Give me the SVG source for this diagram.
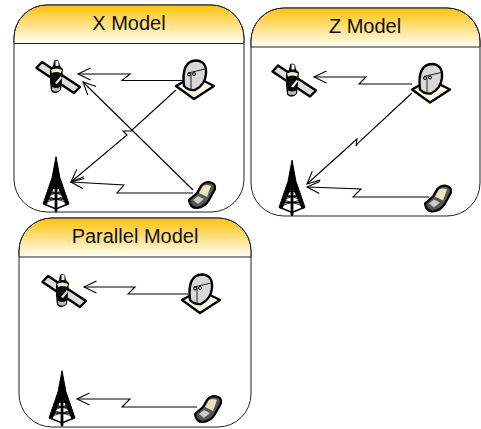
<svg xmlns="http://www.w3.org/2000/svg" width="481" height="429" viewBox="0 0 481 429">
<style>
.panel{fill:#fff;stroke:#222;stroke-width:1}
.head{fill:url(#hg);stroke:none}
.sep{stroke:#222;stroke-width:1}
.title{font-family:"Liberation Sans",Arial,sans-serif;font-size:20px;fill:#111;text-anchor:middle}
.link{fill:none;stroke:#000;stroke-width:1.100;marker-end:url(#open)}
</style>
<defs>
<linearGradient id="hg" x1="0" y1="0" x2="0" y2="1"><stop offset="0" stop-color="#ffc20e"/><stop offset="1" stop-color="#fffff8"/></linearGradient>
<marker id="open" markerUnits="userSpaceOnUse" markerWidth="16" markerHeight="16" refX="14" refY="7" orient="auto" viewBox="0 0 16 14"><path d="M1.500 1 L14 7 L1.500 13" fill="none" stroke="#000" stroke-width="1.100"/></marker>
<g id="sat">
<path d="M36.500 68 L42 62 L80 87 L74 93 Z" fill="#ddd" stroke="#000" stroke-width="2.400" stroke-linejoin="round"/>
<path d="M50 70 L53 66 L54 61 Q56 59 59 61 L60 66 L63 69 L62 80 L61 90 Q56 96 51 91 L50 82 Z" fill="#0a0a0a"/>
<path d="M51 70 Q56 67 62 70 L61 73 Q56 71 52 73 Z M55 83 L61 76 L62 78 L57 84 Z" fill="#f4f0d0"/>
<path d="M55.500 61 H58.500 V66 H55.500 Z" fill="#eee"/>
<path d="M52 87 Q56 89 60 87 L60 90 Q56 93 52 90 Z" fill="#bbb"/>
</g>
<g id="dish">
<path d="M176 86 L194 76 L214 86 L194 99 Z" fill="#fffde8" stroke="#000" stroke-width="2.400" stroke-linejoin="round"/>
<path d="M184 86 Q181 61 196 60.500 Q207 61 206 74 Q205 85 195 90 Q189 91 184 86 Z" fill="#d8d8d8" stroke="#000" stroke-width="2.400"/>
<path d="M188 73 L205 69 M191 73 L191 90" fill="none" stroke="#222" stroke-width="1"/>
<circle cx="189" cy="74.500" r="1.500" fill="none" stroke="#000"/><circle cx="194" cy="74" r="1.500" fill="none" stroke="#000"/>
</g>
<g id="tower" fill="none" stroke="#000" stroke-linecap="round">
<path d="M56 157 L52 178 L43 204 L46 205 L54 186 H58 L66 205 L69 204 L60 178 Z" fill="#000" stroke-width="1"/>
<path d="M56 182 V211" stroke-width="2.800"/>
<path d="M51 182 H61 M50 188 H62 M48 193 H64 M46 199 H66 M44 204 L56 209 L68 204" stroke-width="1.400"/>
<path d="M50 184 L62 190 M62 184 L50 190 M48 190 L64 196 M64 190 L48 196 M46 196 L66 202 M66 196 L46 202" stroke-width=".8"/>
</g>
<g id="phone">
<path d="M189 200 L197 193 L201 186 Q204 182 209 182 Q216 183 215 189 L209 200 Q205 207 197 208 Q190 208 189 200 Z" fill="#555" stroke="#000" stroke-width="2.200" stroke-linejoin="round"/>
<path d="M199 193 L203 186 Q207 184 211 186 L207 197 Z" fill="#e8e4c0"/>
<path d="M193 200 L198 196 L204 199 L198 204 Z" fill="#ccc"/>
</g>
</defs>
<g id="x-model">
<rect class="panel" x="14" y="5" width="230" height="207" rx="33"/>
<path class="head" d="M14.500 43.500 V38 A33 33 0 0 1 47 5.500 H211 A33 33 0 0 1 243.500 38 V43.500 Z"/>
<path class="sep" d="M14 43.500 H244"/>
<path d="M14 43 V38 A33 33 0 0 1 47 5 H211 A33 33 0 0 1 244 38 V43" fill="none" stroke="#222"/>
<text class="title" x="129" y="30">X Model</text>
<use href="#sat"/><use href="#dish"/><use href="#tower"/><use href="#phone"/>
</g>
<g id="z-model">
<rect class="panel" x="251" y="8" width="229" height="208" rx="33"/>
<path class="head" d="M251.500 47 V41 A33 33 0 0 1 284 8.500 H447 A33 33 0 0 1 479.500 41 V47 Z"/>
<path class="sep" d="M251 47 H480"/>
<path d="M251 47 V41 A33 33 0 0 1 284 8 H447 A33 33 0 0 1 480 41 V47" fill="none" stroke="#222"/>
<text class="title" x="365" y="33">Z Model</text>
<g transform="translate(236 3.500)"><use href="#sat"/><use href="#dish"/><use href="#tower"/><use href="#phone"/></g>
</g>
<g id="parallel-model">
<rect class="panel" x="19" y="218" width="232" height="209" rx="33"/>
<path class="head" d="M19.500 257 V251 A33 33 0 0 1 52 218.500 H218 A33 33 0 0 1 250.500 251 V257 Z"/>
<path class="sep" d="M19 257 H251"/>
<path d="M19 257 V251 A33 33 0 0 1 52 218 H218 A33 33 0 0 1 251 251 V257" fill="none" stroke="#222"/>
<text class="title" x="135" y="243">Parallel Model</text>
<g transform="translate(6 214)"><use href="#sat"/><use href="#dish"/><use href="#tower"/><use href="#phone"/></g>
</g>
<g id="connectors">
<path class="link" d="M183 80.500 H122 L130 74 H78"/>
<path class="link" d="M193 190 L83 82"/>
<path class="link" d="M176 90 L131 131 H123 L127 135 L71 182"/>
<path class="link" d="M193 193 H117 L124 185 L71 182"/>
<path class="link" d="M412 84 H359 L366 77 H314"/>
<path class="link" d="M412 93 L358 143 L356 146 L357 139 L307 184"/>
<path class="link" d="M429 197 H353 L361 189 L307 187"/>
<path class="link" d="M188 294 H128 L135 287 H84"/>
<path class="link" d="M197 407 H122 L130 399 H77"/>
</g>
</svg>
